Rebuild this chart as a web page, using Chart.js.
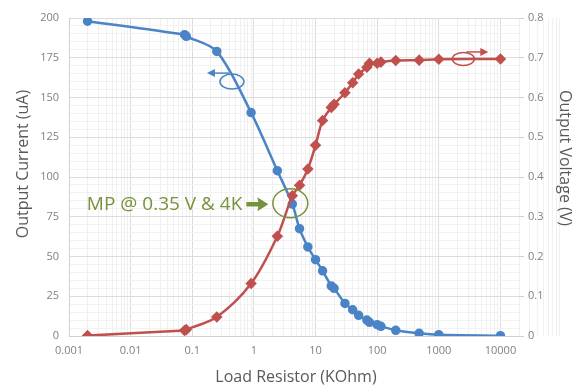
<!DOCTYPE html>
<html>
<head>
<meta charset="utf-8">
<script src="https://cdn.jsdelivr.net/npm/chart.js@4.4.1/dist/chart.umd.min.js"></script>
<style>
  html, body { margin: 0; padding: 0; background: #fff; }
  #wrap { width: 572px; height: 387px; position: relative; }
</style>
</head>
<body>
<div id="wrap"><canvas id="chart"></canvas></div>
<script>
// Load resistor sweep: current (uA, left) and voltage (V, right)
const resistance = [0.002, 0.075, 0.08, 0.25, 0.9, 2.4, 4.2, 5.5, 7.5, 10, 13, 18, 20, 30, 40, 50, 68, 75, 100, 115, 200, 480, 1000, 10000];
const current = [198, 189.5, 188.5, 179, 140.5, 104, 83, 67.5, 56, 48, 41, 31.5, 30, 20.5, 16.5, 13, 10, 8.6, 7.1, 6.1, 3.6, 1.7, 0.8, 0.2];
const voltage = [0.001, 0.014, 0.016, 0.048, 0.132, 0.251, 0.353, 0.379, 0.42, 0.48, 0.542, 0.575, 0.583, 0.612, 0.637, 0.659, 0.676, 0.686, 0.686, 0.689, 0.693, 0.694, 0.696, 0.697];

const xMajorTicks = [0.001, 0.01, 0.1, 1, 10, 100, 1000, 10000];
const xTickLabels = ['0.001', '0.01', '0.1', '1', '10', '100', '1000', '10000'];
const currentTicks = [0, 25, 50, 75, 100, 125, 150, 175, 200];
const voltageTicks = [0, 0.1, 0.2, 0.3, 0.4, 0.5, 0.6, 0.7, 0.8];

const BLUE = '#4a84c6';
const RED = '#c0504d';
const GREEN = '#76923c';
const TICK_COLOR = '#808080';
const TITLE_COLOR = '#595959';
const FONT = "'Open Sans', sans-serif";

// minor log grid: 1..9 per decade
const xAllTicks = [];
xMajorTicks.forEach(m => { for (let k = 1; k <= 9; k++) xAllTicks.push(m * k); });
xAllTicks.push(20000);

function ellipse(ctx, cx, cy, rx, ry, color, w) {
  ctx.beginPath();
  ctx.ellipse(cx, cy, rx, ry, 0, 0, Math.PI * 2);
  ctx.strokeStyle = color;
  ctx.lineWidth = w;
  ctx.stroke();
}

function thinArrow(ctx, x1, y1, x2, y2, color) {
  const a = Math.atan2(y2 - y1, x2 - x1);
  ctx.strokeStyle = color;
  ctx.fillStyle = color;
  ctx.lineWidth = 1.5;
  ctx.beginPath();
  ctx.moveTo(x1, y1);
  ctx.lineTo(x2 - 6 * Math.cos(a), y2 - 6 * Math.sin(a));
  ctx.stroke();
  ctx.beginPath();
  ctx.moveTo(x2, y2);
  ctx.lineTo(x2 - 8 * Math.cos(a) - 4 * Math.sin(a), y2 - 8 * Math.sin(a) + 4 * Math.cos(a));
  ctx.lineTo(x2 - 8 * Math.cos(a) + 4 * Math.sin(a), y2 - 8 * Math.sin(a) - 4 * Math.cos(a));
  ctx.closePath();
  ctx.fill();
}

const annotations = {
  id: 'annotations',
  afterDatasetsDraw(chart) {
    const {ctx, scales: {x, y, y2}} = chart;
    ctx.save();
    // blue marker: current -> left axis
    let cx = x.getPixelForValue(0.44), cy = y.getPixelForValue(160);
    ellipse(ctx, cx, cy, 12, 7.5, BLUE, 1.5);
    thinArrow(ctx, cx - 3, cy - 8.5, cx - 25, cy - 8.5, BLUE);
    // red marker: voltage -> right axis
    cx = x.getPixelForValue(2500); cy = y2.getPixelForValue(0.697);
    ellipse(ctx, cx, cy, 11, 6.5, RED, 1.5);
    thinArrow(ctx, cx + 3, cy - 7, cx + 25, cy - 7, RED);
    // maximum power point
    cx = x.getPixelForValue(3.9); cy = y.getPixelForValue(83.5);
    ellipse(ctx, cx, cy, 17.5, 14.5, GREEN, 1.5);
    const ax = cx - 44, ay = cy + 1;
    ctx.fillStyle = GREEN;
    ctx.beginPath();
    ctx.moveTo(ax, ay - 2.2);
    ctx.lineTo(ax + 12, ay - 2.2);
    ctx.lineTo(ax + 11, ay - 7);
    ctx.lineTo(ax + 22, ay);
    ctx.lineTo(ax + 11, ay + 7);
    ctx.lineTo(ax + 12, ay + 2.2);
    ctx.lineTo(ax, ay + 2.2);
    ctx.closePath();
    ctx.fill();
    ctx.font = "19px " + FONT;
    ctx.textAlign = 'right';
    ctx.textBaseline = 'middle';
    ctx.fillText('MP @ 0.35 V & 4K', ax - 4, ay);
    // axis titles
    ctx.fillStyle = TITLE_COLOR;
    ctx.font = "16px " + FONT;
    ctx.textAlign = 'center';
    ctx.fillText('Load Resistor (KOhm)', 296, 377);
    ctx.save();
    ctx.translate(23, 164);
    ctx.rotate(-Math.PI / 2);
    ctx.fillText('Output Current (uA)', 0, 0);
    ctx.restore();
    ctx.save();
    ctx.translate(565, 158);
    ctx.rotate(Math.PI / 2);
    ctx.fillText('Output Voltage (V)', 0, 0);
    ctx.restore();
    ctx.restore();
  }
};

new Chart(document.getElementById('chart'), {
  type: 'scatter',
  data: {
    datasets: [
      {
        label: 'Output Current',
        data: resistance.map((r, i) => ({x: r, y: current[i]})),
        yAxisID: 'y',
        showLine: true,
        borderColor: BLUE,
        backgroundColor: BLUE,
        borderWidth: 2.5,
        pointStyle: 'circle',
        pointRadius: 3.5,
        tension: 0.3,
        order: 1
      },
      {
        label: 'Output Voltage',
        data: resistance.map((r, i) => ({x: r, y: voltage[i]})),
        yAxisID: 'y2',
        showLine: true,
        borderColor: RED,
        backgroundColor: RED,
        borderWidth: 2.5,
        pointStyle: 'rectRot',
        pointRadius: 4,
        tension: 0.3,
        order: 0
      }
    ]
  },
  options: {
    responsive: true,
    maintainAspectRatio: false,
    animation: false,
    layout: { padding: { top: 18, left: 0, right: 0, bottom: 0 } },
    plugins: { legend: { display: false }, tooltip: { enabled: false } },
    scales: {
      x: {
        type: 'logarithmic',
        min: 0.001,
        max: 20000,
        afterBuildTicks: s => { s.ticks = xAllTicks.map(v => ({value: v})); },
        afterFit: s => { s.height = 51; },
        ticks: {
          autoSkip: false,
          maxRotation: 0,
          padding: 8,
          color: TICK_COLOR,
          font: { family: FONT, size: 11 },
          callback: v => {
            const i = xMajorTicks.findIndex(m => Math.abs(m - v) / m < 1e-6);
            return i >= 0 ? xTickLabels[i] : '';
          }
        },
        grid: {
          drawTicks: false,
          color: c => xMajorTicks.some(m => Math.abs(m - c.tick.value) / m < 1e-6) ? '#dcdcdc' : '#f0f0f0'
        },
        border: { color: '#d0d0d0' }
      },
      y: {
        position: 'left',
        min: 0,
        max: 200,
        afterBuildTicks: s => {
          const t = [];
          for (let v = 0; v <= 200; v += 5) t.push({value: v});
          s.ticks = t;
        },
        afterFit: s => { s.width = 69; },
        ticks: {
          autoSkip: false,
          padding: 10,
          color: TICK_COLOR,
          font: { family: FONT, size: 11 },
          callback: v => currentTicks.includes(v) ? String(v) : ''
        },
        grid: {
          drawTicks: false,
          color: c => currentTicks.includes(c.tick.value) ? '#dcdcdc' : '#f2f2f2'
        },
        border: { color: '#d0d0d0' }
      },
      y2: {
        position: 'right',
        min: 0,
        max: 0.8,
        afterBuildTicks: s => { s.ticks = voltageTicks.map(v => ({value: v})); },
        afterFit: s => { s.width = 53; },
        ticks: {
          padding: 4,
          color: TICK_COLOR,
          font: { family: FONT, size: 11 },
          callback: v => String(Math.round(v * 10) / 10)
        },
        grid: { drawOnChartArea: false, drawTicks: true, tickLength: 5, color: '#d0d0d0' },
        border: { display: false }
      }
    }
  },
  plugins: [annotations]
});
</script>
</body>
</html>
